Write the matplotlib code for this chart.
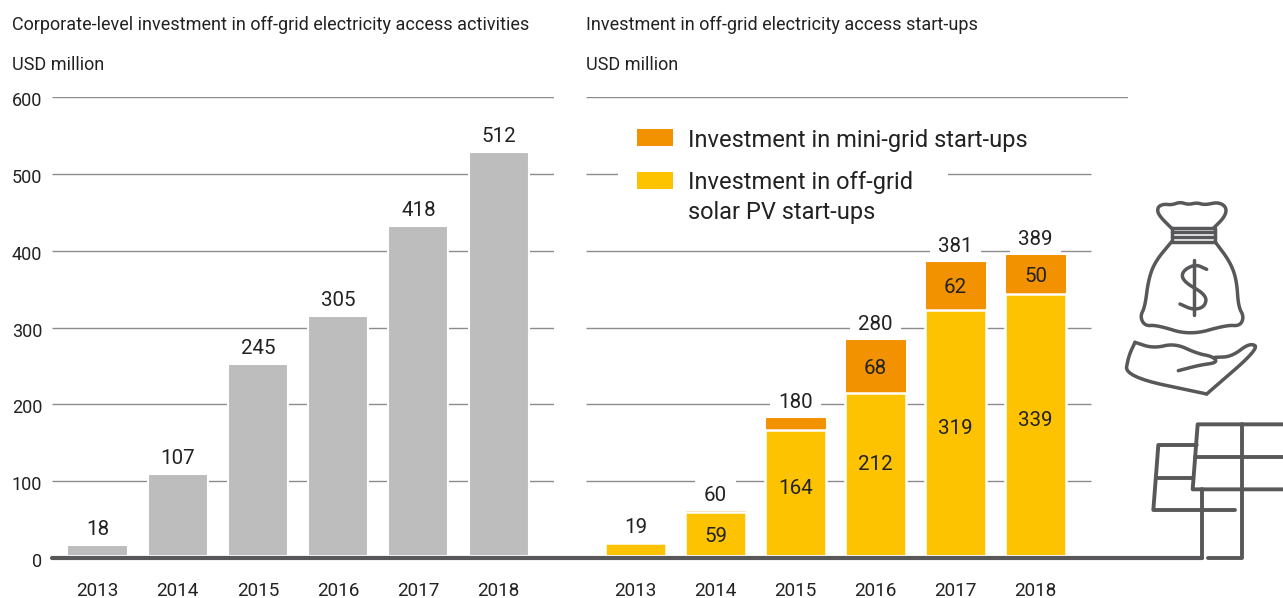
import matplotlib as mpl
mpl.use('agg')
import matplotlib.pyplot as plt
from matplotlib.patches import Rectangle
import numpy as np

years = ["2013", "2014", "2015", "2016", "2017", "2018"]
corporate = [18, 107, 245, 305, 418, 512]
solar = [19, 59, 164, 212, 319, 339]
minigrid = [0, 1, 16, 68, 62, 50]
totals = [19, 60, 180, 280, 381, 389]
yticks = [0, 100, 200, 300, 400, 500, 600]

W, H = 1283, 598
GREY = "#bdbdbd"
YELLOW = "#fdc300"
ORANGE = "#f39200"
DARK = "#58585a"
TXT = "#222222"
LINE = "#8c8c8c"

plt.rcParams['font.family'] = ['Roboto', 'DejaVu Sans']

fig = plt.figure(figsize=(W / 100, H / 100), dpi=100)


def rect(x0, x1, y_top, y_bot):
    return [x0 / W, 1 - y_bot / H, (x1 - x0) / W, (y_bot - y_top) / H]


def panel(x0, x1, xlim, ylim):
    # one axes for the grid, one on top for the bars (bars stop just above the baseline)
    g = fig.add_axes(rect(x0, x1, 97.2, 558), zorder=1)
    g.set_xlim(x0, x1)
    g.set_ylim(0, 600)
    for s in g.spines.values():
        s.set_visible(False)
    g.set_xticks([])
    g.set_yticks([])
    b = fig.add_axes(rect(x0, x1, 98, 555), zorder=2)
    b.patch.set_alpha(0)
    b.set_xlim(*xlim)
    b.set_ylim(*ylim)
    for s in b.spines.values():
        s.set_visible(False)
    b.set_yticks([])
    b.set_xticks(range(len(years)))
    b.set_xticklabels(years, fontsize=13.6, color=TXT)
    b.tick_params(axis='x', length=0, pad=19.4)
    return g, b


def top_label(g, b, x, y, s):
    # drawn on the grid axes so the white box hides grid lines but not the bars
    g.annotate(s, (x, y), xycoords=b.transData, xytext=(0, 6), textcoords='offset pixels',
               ha='center', va='bottom', fontsize=14.8, color=TXT, zorder=5,
               bbox=dict(boxstyle='square,pad=0.42', fc='white', ec='none'))


def in_label(b, x, y, s, dy=0):
    b.annotate(s, (x, y), xytext=(0, dy - 2), textcoords='offset pixels', ha='center', va='center',
               fontsize=14.8, color=TXT, zorder=5)


# left panel
g1, b1 = panel(52, 554, (-0.567, 5.69), (5.03, 579.5))
g1.hlines(yticks[1:], 52, 554, color=LINE, lw=1)
for v in yticks:
    g1.annotate(str(v), (42, v), xytext=(0, -4), textcoords='offset pixels', ha='right', va='center',
                fontsize=13, color=TXT, annotation_clip=False)
x = np.arange(len(years))
b1.bar(x, corporate, width=0.75, color=GREY, edgecolor='white', linewidth=1.5)
for i, v in enumerate(corporate):
    top_label(g1, b1, i, v, str(v))

# right panel
g2, b2 = panel(586, 1128, (-0.619, 6.156), (3.35, 591.5))
g2.hlines(yticks[-1], 586, 1128, color=LINE, lw=1)
g2.hlines(yticks[1:-1], 586, 1091, color=LINE, lw=1)
g2.add_patch(Rectangle((618, 470), 330, 60, fc='white', ec='none', zorder=3))
b2.bar(x, minigrid, width=0.735, bottom=solar, color=ORANGE, edgecolor=ORANGE, linewidth=0.7)
b2.bar(x, solar, width=0.76, color=YELLOW, edgecolor='white', linewidth=1.8)
shift = [0, 0, 7, 13, 7, 7]
for i in x:
    top_label(g2, b2, i, totals[i], str(totals[i]))
    if i > 0:
        in_label(b2, i, solar[i] / 2, str(solar[i]), dy=shift[i])
    if minigrid[i] >= 50:
        in_label(b2, i, solar[i] + minigrid[i] / 2, str(minigrid[i]))

# titles
for px, title in [(12, "Corporate-level investment in off-grid electricity access activities"),
                  (586, "Investment in off-grid electricity access start-ups")]:
    fig.text(px / W, 1 - 25 / H, title, fontsize=13, color=TXT, va='center')
    fig.text(px / W, 1 - 64.5 / H, "USD million", fontsize=13, color=TXT, va='center')

# overlay in pixel coordinates: key, baseline and line icons
ov = fig.add_axes([0, 0, 1, 1], zorder=6)
ov.patch.set_alpha(0)
ov.set_xlim(0, W)
ov.set_ylim(H, 0)
ov.axis('off')

ov.add_patch(Rectangle((637, 129), 36, 17, fc=ORANGE, ec='none'))
ov.add_patch(Rectangle((637, 172), 36, 17, fc=YELLOW, ec='none'))
ov.text(688, 141, "Investment in mini-grid start-ups", fontsize=17, color=TXT, va='center')
ov.text(688, 183, "Investment in off-grid", fontsize=17, color=TXT, va='center')
ov.text(688, 213, "solar PV start-ups", fontsize=17, color=TXT, va='center')


def chaikin(pts, n=3):
    p = np.array(pts, float)
    for _ in range(n):
        q = p[:-1] * 0.75 + p[1:] * 0.25
        r = p[:-1] * 0.25 + p[1:] * 0.75
        p = np.vstack([p[:1], np.column_stack([q, r]).reshape(-1, 2), p[-1:]])
    return p


def draw(pts, ox, oy, lw=2.5, smooth=False):
    p = chaikin(pts) if smooth else np.array(pts, float)
    ov.plot(ox + p[:, 0] / 3, oy + p[:, 1] / 3, color=DARK, lw=lw, solid_capstyle='round',
            solid_joinstyle='round')


ov.plot([52, 1202], [558.3, 558.3], color=DARK, lw=3, solid_capstyle='round')

# solar panels
sp = [[(307, 475), (307, 268)],
      [(549, 73), (293, 73), (278, 268), (549, 268)],
      [(285, 170), (549, 170)],
      [(325, 475), (427, 475), (427, 73)],
      [(290, 135), (175, 135), (160, 330), (405, 330)],
      [(170, 233), (280, 233)]]
for s in sp:
    draw(s, 1100, 400, lw=2.8)

# money bag and hand
bag = [[(215, 145), (175, 105), (172, 82), (190, 72), (215, 75), (240, 66), (265, 74), (290, 68), (315, 75),
        (355, 66), (380, 82), (375, 110), (340, 145)],
       [(215, 185), (165, 245), (145, 300), (135, 380), (120, 410), (135, 438), (170, 435), (270, 466),
        (380, 435), (420, 438), (432, 410), (415, 380), (410, 300), (390, 245), (345, 185)],
       [(320, 268), (285, 252), (245, 275), (250, 305), (320, 345), (315, 380), (280, 390), (240, 372)],
       [(105, 487), (160, 505), (225, 490), (290, 520), (340, 530), (352, 548), (300, 555), (235, 572)],
       [(345, 532), (395, 530), (450, 488), (478, 505), (320, 642)],
       [(105, 487), (85, 530), (75, 590), (320, 642)]]
for s in bag:
    draw(s, 1100, 180, smooth=True)
for s in [[(215, 145), (215, 185), (345, 185), (345, 145), (215, 145)],
          [(215, 157), (345, 157)], [(215, 171), (345, 171)], [(283, 240), (283, 405)]]:
    draw(s, 1100, 180)

plt.savefig("out.png", dpi=100)
